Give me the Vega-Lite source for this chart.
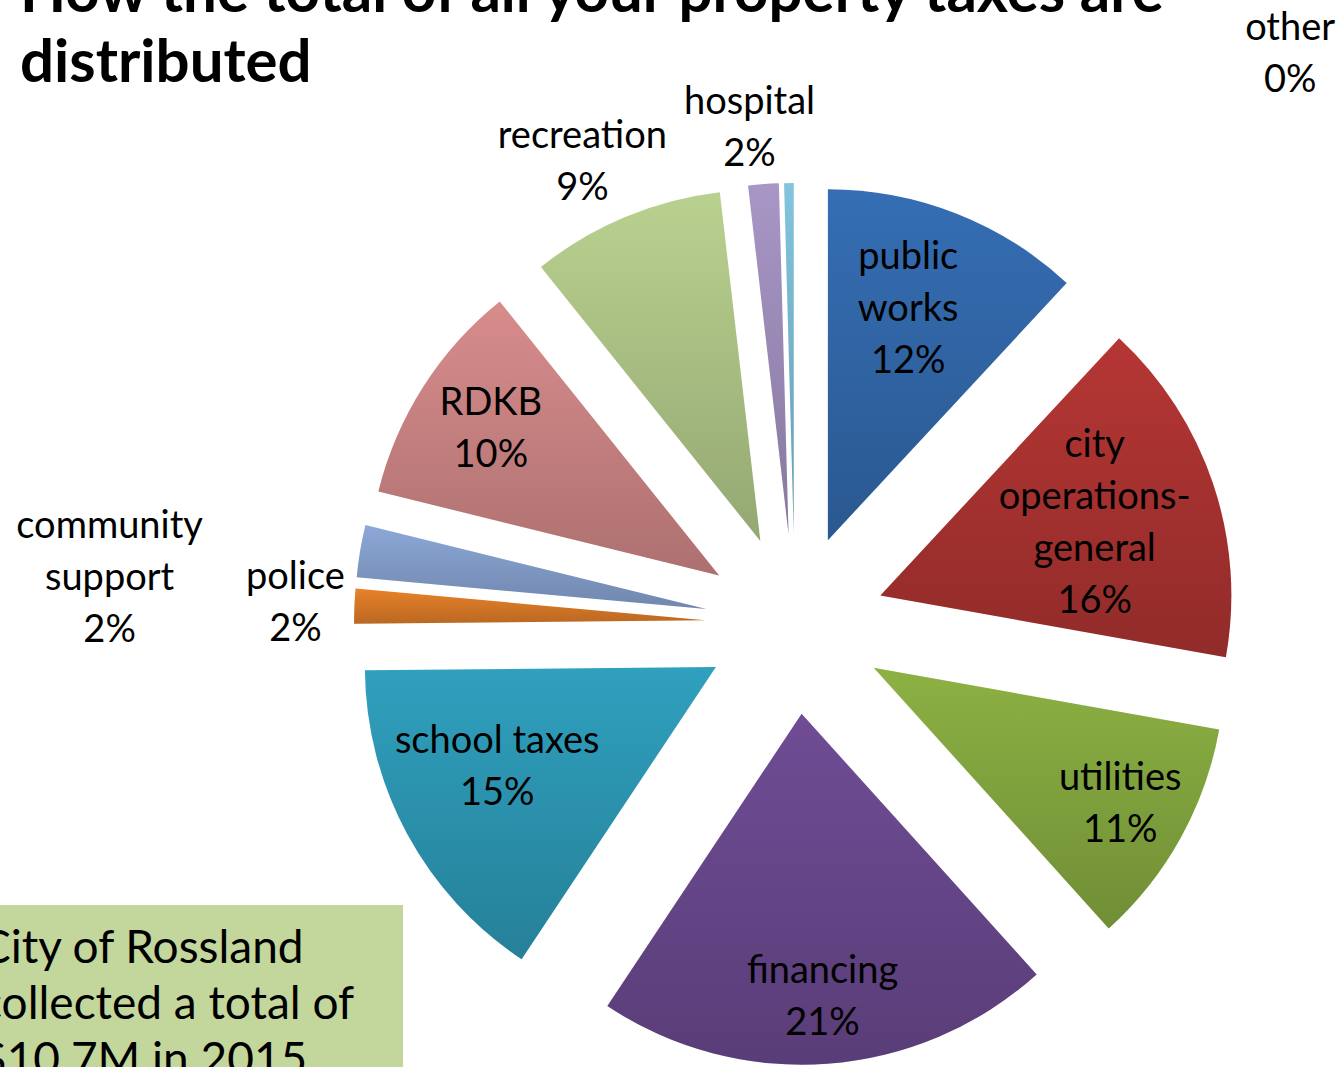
{
  "$schema": "https://vega.github.io/schema/vega-lite/v6.json",
  "width": 1098,
  "height": 886,
  "autosize": "none",
  "padding": {"left": 246, "top": 181, "right": 0, "bottom": 0},
  "background": "white",
  "config": {"view": {"stroke": null}, "font": "Lato"},
  "title": {
    "text": ["How the total of all your property taxes are", "distributed"],
    "anchor": "start",
    "frame": "group",
    "font": "Lato",
    "fontSize": 60,
    "fontWeight": "bold",
    "color": "black",
    "lineHeight": 70,
    "dx": -226,
    "dy": 85,
    "offset": 0
  },
  "datasets": {
    "taxes": [
      {"order": 1, "category": "public works", "value": 11.9, "label": "public\nworks\n12%"},
      {"order": 2, "category": "city operations-general", "value": 15.9, "label": "city\noperations-\ngeneral\n16%"},
      {"order": 3, "category": "utilities", "value": 10.5, "label": "utilities\n11%"},
      {"order": 4, "category": "financing", "value": 21.0, "label": "financing\n21%"},
      {"order": 5, "category": "school taxes", "value": 15.5, "label": "school taxes\n15%"},
      {"order": 6, "category": "police", "value": 1.6, "label": "police\n2%"},
      {"order": 7, "category": "community support", "value": 2.4, "label": "community\nsupport\n2%"},
      {"order": 8, "category": "RDKB", "value": 10.4, "label": "RDKB\n10%"},
      {"order": 9, "category": "recreation", "value": 8.9, "label": "recreation\n9%"},
      {"order": 10, "category": "hospital", "value": 1.4, "label": "hospital\n2%"},
      {"order": 11, "category": "other", "value": 0.44, "label": "other\n0%"}
    ],
    "note": [{"note": "City of Rossland collected a total of $10.7M in 2015"}]
  },
  "layer": [
    {
      "data": {"name": "taxes"},
      "mark": {
        "type": "arc",
        "outerRadius": 351,
        "xOffset": {"expr": "90*sin(scale('theta', 0.5*datum.value_start + 0.5*datum.value_end))"},
        "yOffset": {"expr": "-90*cos(scale('theta', 0.5*datum.value_start + 0.5*datum.value_end))"}
      },
      "encoding": {
        "theta": {"field": "value", "type": "quantitative", "stack": true},
        "order": {"field": "order", "type": "quantitative"},
        "color": {
          "field": "category",
          "type": "nominal",
          "legend": null,
          "scale": {
            "domain": ["public works", "city operations-general", "utilities", "financing", "school taxes", "police", "community support", "RDKB", "recreation", "hospital", "other"],
            "range": ["#356EB4", "#B53634", "#8CB143", "#6F4C95", "#2FA0BE", "#E8822A", "#8CA8D8", "#D88C8C", "#B9D18F", "#A896C6", "#82C4DE"]
          }
        }
      }
    },
    {
      "data": {"name": "taxes"},
      "mark": {
        "type": "arc",
        "outerRadius": 351,
        "color": {
          "gradient": "linear",
          "x1": 0, "y1": 0, "x2": 0, "y2": 1,
          "stops": [
            {"offset": 0, "color": "rgba(0,0,0,0.0)"},
            {"offset": 1, "color": "rgba(0,0,0,0.2)"}
          ]
        },
        "xOffset": {"expr": "90*sin(scale('theta', 0.5*datum.value_start + 0.5*datum.value_end))"},
        "yOffset": {"expr": "-90*cos(scale('theta', 0.5*datum.value_start + 0.5*datum.value_end))"}
      },
      "encoding": {
        "theta": {"field": "value", "type": "quantitative", "stack": true},
        "order": {"field": "order", "type": "quantitative"}
      }
    },
    {
      "data": {"name": "taxes"},
      "mark": {
        "type": "text",
        "font": "Lato",
        "fontSize": 38,
        "lineBreak": "\n",
        "lineHeight": 52,
        "align": "center",
        "baseline": "middle",
        "color": "black",
        "radius": {"expr": "({'public works': 337, 'city operations-general': 316, 'utilities': 372, 'financing': 375, 'school taxes': 316, 'police': 500, 'community support': 695, 'RDKB': 361, 'recreation': 500, 'hospital': 496, 'other': 569})[datum.category]"},
        "dx": {"expr": "({'public works': -10, 'school taxes': -20, 'recreation': -20, 'hospital': -10, 'other': 503})[datum.category] || 0"},
        "dy": {"expr": "(({'community support': 70, 'school taxes': -7})[datum.category] || 0) - 26*(length(split(datum.label, '\\n')) - 1)"}
      },
      "encoding": {
        "theta": {"field": "value", "type": "quantitative", "stack": true},
        "order": {"field": "order", "type": "quantitative"},
        "text": {"field": "label", "type": "nominal"}
      }
    },
    {
      "data": {"name": "note"},
      "mark": {"type": "point", "opacity": 0},
      "encoding": {
        "shape": {
          "field": "note",
          "type": "nominal",
          "legend": {
            "orient": "none",
            "legendX": -288,
            "legendY": 724,
            "title": ["City of Rossland", "collected a total of", "$10.7M in 2015"],
            "titleFont": "Lato",
            "titleFontSize": 46,
            "titleFontWeight": "normal",
            "titleColor": "black",
            "titleLineHeight": 56,
            "titleLimit": 2000,
            "fillColor": "#C3D69B",
            "padding": 22,
            "symbolSize": 0,
            "symbolOpacity": 0,
            "labelExpr": "''",
            "labelOffset": 391
          }
        }
      }
    }
  ]
}
